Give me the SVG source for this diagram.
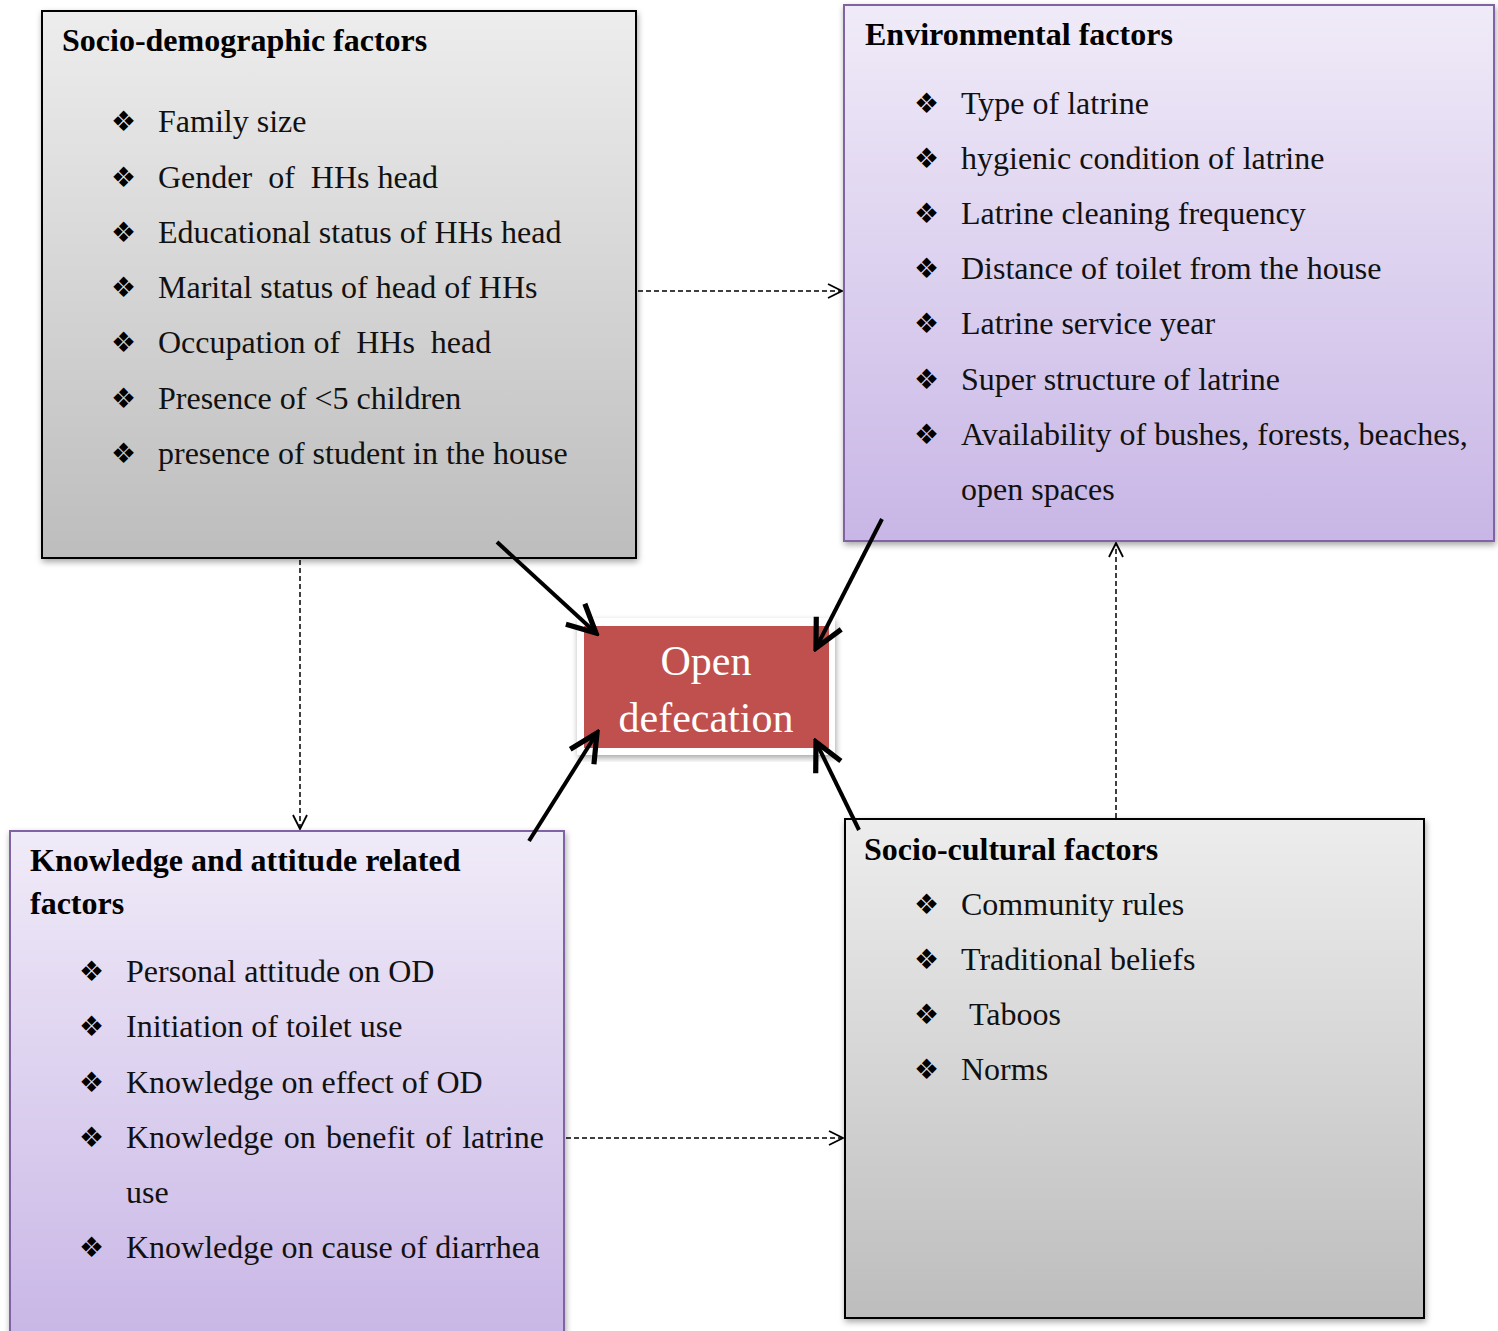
<svg xmlns="http://www.w3.org/2000/svg" width="1498" height="1331" viewBox="0 0 1498 1331">
<defs>
<linearGradient id="gGray" x1="0" y1="0" x2="0" y2="1"><stop offset="0" stop-color="#ededed"/><stop offset="1" stop-color="#bdbdbd"/></linearGradient>
<linearGradient id="gPurp" x1="0" y1="0" x2="0" y2="1"><stop offset="0" stop-color="#f0ebf8"/><stop offset="1" stop-color="#c8b6e6"/></linearGradient>
<filter id="sh" x="-5%" y="-5%" width="110%" height="110%"><feDropShadow dx="1" dy="3" stdDeviation="3" flood-color="#000" flood-opacity="0.35"/></filter>
<marker id="open" viewBox="0 0 16 16" refX="15" refY="8" markerWidth="16" markerHeight="16" markerUnits="userSpaceOnUse" orient="auto"><path d="M1,1 L15,8 L1,15" fill="none" stroke="#000" stroke-width="1.8"/></marker>
<marker id="bold" viewBox="0 0 10 10" refX="9" refY="5" markerWidth="10" markerHeight="10" orient="auto"><path d="M2,1.5 L9,5 L2,8.5" fill="none" stroke="#000" stroke-width="1.3"/></marker>
</defs>
<style>
.t{font-family:"Liberation Serif","Times New Roman",serif;font-size:32px;fill:#111}
.h{font-family:"Liberation Serif","Times New Roman",serif;font-size:32px;font-weight:bold;fill:#000}
.b{font-family:"DejaVu Sans",sans-serif;font-size:28px;fill:#000}
.dash{stroke:#000;stroke-width:1.5;stroke-dasharray:5,3;fill:none;marker-end:url(#open)}
.thick{stroke:#000;stroke-width:4;fill:none;marker-end:url(#bold)}
.c{font-family:"Liberation Serif","Times New Roman",serif;font-size:42px;fill:#fff;text-anchor:middle}
</style>
<rect width="1498" height="1331" fill="#fff"/>

<g id="socio-demographic">
<rect x="42" y="11" width="594" height="547" fill="url(#gGray)" stroke="#000" stroke-width="2" filter="url(#sh)"/>
<text class="h" x="62" y="51">Socio-demographic factors</text>
<text class="b" x="111" y="131">❖</text><text class="t" x="158" y="132">Family size</text>
<text class="b" x="111" y="187">❖</text><text class="t" x="158" y="188" xml:space="preserve">Gender  of  HHs head</text>
<text class="b" x="111" y="242">❖</text><text class="t" x="158" y="243">Educational status of HHs head</text>
<text class="b" x="111" y="297">❖</text><text class="t" x="158" y="298">Marital status of head of HHs</text>
<text class="b" x="111" y="352">❖</text><text class="t" x="158" y="353" xml:space="preserve">Occupation of  HHs  head</text>
<text class="b" x="111" y="408">❖</text><text class="t" x="158" y="409">Presence of &lt;5 children</text>
<text class="b" x="111" y="463">❖</text><text class="t" x="158" y="464">presence of student in the house</text>
</g>

<g id="environmental">
<rect x="844" y="5" width="650" height="536" fill="url(#gPurp)" stroke="#8064a2" stroke-width="2" filter="url(#sh)"/>
<text class="h" x="865" y="45">Environmental factors</text>
<text class="b" x="914" y="113">❖</text><text class="t" x="961" y="114">Type of latrine</text>
<text class="b" x="914" y="168">❖</text><text class="t" x="961" y="169">hygienic condition of latrine</text>
<text class="b" x="914" y="223">❖</text><text class="t" x="961" y="224">Latrine cleaning frequency</text>
<text class="b" x="914" y="278">❖</text><text class="t" x="961" y="279">Distance of toilet from the house</text>
<text class="b" x="914" y="333">❖</text><text class="t" x="961" y="334">Latrine service year</text>
<text class="b" x="914" y="389">❖</text><text class="t" x="961" y="390">Super structure of latrine</text>
<text class="b" x="914" y="444">❖</text><text class="t" x="961" y="445">Availability of bushes, forests, beaches,</text>
<text class="t" x="961" y="500">open spaces</text>
</g>

<g id="knowledge-attitude">
<rect x="10" y="831" width="554" height="510" fill="url(#gPurp)" stroke="#8064a2" stroke-width="2" filter="url(#sh)"/>
<text class="h" x="30" y="871">Knowledge and attitude related</text>
<text class="h" x="30" y="914">factors</text>
<text class="b" x="79" y="981">❖</text><text class="t" x="126" y="982">Personal attitude on OD</text>
<text class="b" x="79" y="1036">❖</text><text class="t" x="126" y="1037">Initiation of toilet use</text>
<text class="b" x="79" y="1092">❖</text><text class="t" x="126" y="1093">Knowledge on effect of OD</text>
<text class="b" x="79" y="1147">❖</text><text class="t" x="126" y="1148" style="word-spacing:2.3px">Knowledge on benefit of latrine</text>
<text class="t" x="126" y="1203">use</text>
<text class="b" x="79" y="1257">❖</text><text class="t" x="126" y="1258">Knowledge on cause of diarrhea</text>
</g>

<g id="socio-cultural">
<rect x="845" y="819" width="579" height="499" fill="url(#gGray)" stroke="#000" stroke-width="2" filter="url(#sh)"/>
<text class="h" x="864" y="860">Socio-cultural factors</text>
<text class="b" x="914" y="914">❖</text><text class="t" x="961" y="915">Community rules</text>
<text class="b" x="914" y="969">❖</text><text class="t" x="961" y="970">Traditional beliefs</text>
<text class="b" x="914" y="1024">❖</text><text class="t" x="969" y="1025">Taboos</text>
<text class="b" x="914" y="1079">❖</text><text class="t" x="961" y="1080">Norms</text>
</g>

<g id="open-defecation">
<rect x="577" y="618" width="258" height="137" fill="#fff" filter="url(#sh)"/>
<rect x="584" y="626" width="245" height="122" fill="#c0504d"/>
<text class="c" x="706" y="675">Open</text>
<text class="c" x="706" y="732">defecation</text>
</g>

<g id="connectors">
<line class="dash" x1="638" y1="291" x2="842" y2="291"/>
<line class="dash" x1="300" y1="560" x2="300" y2="829"/>
<line class="dash" x1="1116" y1="818" x2="1116" y2="543"/>
<line class="dash" x1="566" y1="1138" x2="843" y2="1138"/>
<line class="thick" x1="497" y1="542" x2="596" y2="633"/>
<line class="thick" x1="882" y1="519" x2="816" y2="648"/>
<line class="thick" x1="529" y1="841" x2="597" y2="733"/>
<line class="thick" x1="859" y1="830" x2="816" y2="742"/>
</g>
</svg>
